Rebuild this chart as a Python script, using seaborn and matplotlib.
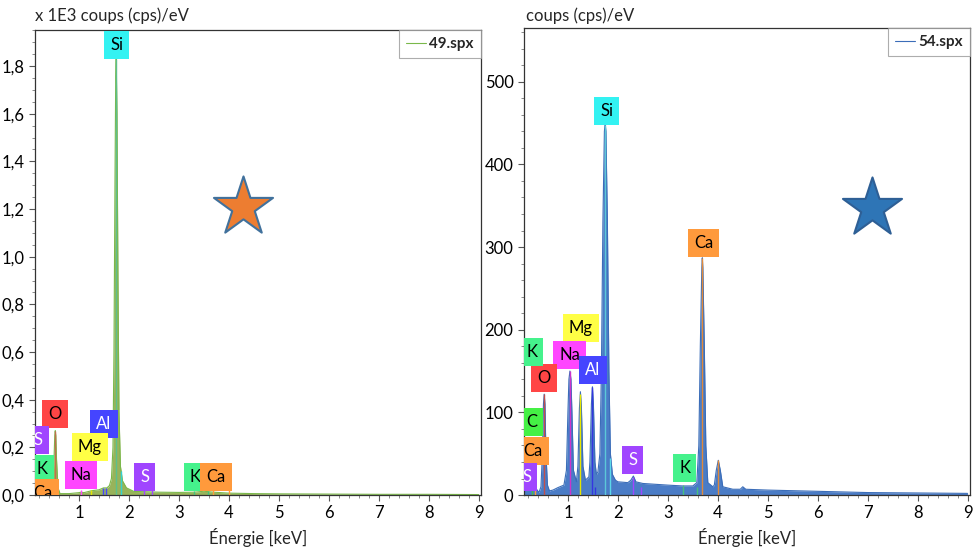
import matplotlib
matplotlib.use("Agg")
import matplotlib.pyplot as plt
from matplotlib.ticker import MultipleLocator
import seaborn as sns
import pandas as pd

sns.set_style("ticks")
plt.rcParams['font.family'] = ['Lato', 'DejaVu Sans']

# spectrum 49.spx (x 1E3 cps/eV)
e_49 = [0.12, 0.2, 0.28, 0.36, 0.43, 0.47, 0.5, 0.515, 0.525, 0.535, 0.55, 0.58, 0.62, 0.8, 1.0, 1.04,
        1.1, 1.25, 1.4, 1.49, 1.56, 1.61, 1.65, 1.68, 1.70, 1.72, 1.735, 1.745, 1.76, 1.78, 1.80,
        1.83, 1.87, 1.95, 2.1, 2.31, 2.6, 3.0, 3.31, 3.5, 3.69, 4.0, 4.5, 5.0, 6.0, 7.0, 8.0, 9.0]
c_49 = [0.03, 0.04, 0.05, 0.02, 0.008, 0.03, 0.15, 0.25, 0.27, 0.25, 0.15, 0.03, 0.006, 0.006, 0.01, 0.012,
        0.01, 0.018, 0.022, 0.03, 0.03, 0.04, 0.07, 0.2, 0.6, 1.3, 1.75, 1.83, 1.6, 0.9, 0.35,
        0.12, 0.06, 0.03, 0.015, 0.014, 0.012, 0.011, 0.012, 0.016, 0.012, 0.008, 0.006, 0.005, 0.004, 0.003, 0.003, 0.002]

# spectrum 54.spx (cps/eV)
e_54 = [0.12, 0.2, 0.26, 0.28, 0.31, 0.36, 0.42, 0.46, 0.49, 0.51, 0.525, 0.54, 0.56, 0.59, 0.63, 0.7,
        0.8, 0.92, 0.97, 1.0, 1.02, 1.04, 1.06, 1.08, 1.11, 1.17, 1.2, 1.23, 1.25, 1.27, 1.3, 1.35,
        1.42, 1.44, 1.47, 1.49, 1.51, 1.54, 1.57, 1.60, 1.64, 1.67, 1.70, 1.73, 1.745, 1.76, 1.79,
        1.82, 1.85, 1.89, 1.95, 2.0, 2.2, 2.26, 2.31, 2.36, 2.5, 3.0, 3.3, 3.5, 3.58, 3.62, 3.65,
        3.68, 3.69, 3.70, 3.73, 3.76, 3.80, 3.9, 3.93, 3.97, 4.01, 4.05, 4.10, 4.3, 4.45, 4.5,
        4.56, 5.0, 6.0, 7.0, 8.0, 9.0]
c_54 = [30, 25, 28, 30, 22, 8, 3, 10, 50, 110, 122, 110, 50, 12, 5, 6,
        9, 12, 30, 100, 140, 150, 140, 100, 30, 16, 35, 105, 125, 105, 35, 18,
        22, 40, 110, 131, 110, 40, 25, 28, 50, 150, 330, 440, 450, 440, 330,
        150, 50, 25, 18, 16, 15, 18, 23, 16, 14, 12, 11, 11, 15, 60, 180,
        275, 287, 275, 180, 60, 15, 10, 12, 30, 42, 30, 10, 7, 7, 10,
        7, 6, 4.5, 3, 2.5, 2]

# element labels
lab_49 = ['Si', 'O', 'Al', 'Mg', 'Na', 'S', 'K', 'Ca', 'S', 'K', 'Ca']
lab_49_x = [1.76, 0.52, 1.50, 1.22, 1.04, 0.18, 0.26, 0.28, 2.32, 3.33, 3.74]
lab_49_y = [1.89, 0.34, 0.30, 0.20, 0.085, 0.23, 0.11, 0.01, 0.075, 0.075, 0.075]
lab_54 = ['Si', 'Ca', 'Mg', 'Na', 'Al', 'O', 'K', 'C', 'Ca', 'S', 'S', 'K']
lab_54_x = [1.78, 3.72, 1.26, 1.04, 1.50, 0.52, 0.28, 0.28, 0.30, 0.18, 2.30, 3.34]
lab_54_y = [464, 305, 202, 170, 151, 141, 173, 88, 53, 22, 42, 33]

box_col = {'Si': '#33f2f2', 'O': '#ff4545', 'Al': '#4545ff', 'Mg': '#ffff45', 'Na': '#ff45ff',
           'S': '#a045ff', 'K': '#45f28c', 'Ca': '#ff9a3c', 'C': '#45f045'}
txt_col = {'Al': 'white', 'S': 'white'}

# element marker lines (energy, height, colour)
ln_49_e = [0.525, 1.04, 1.25, 1.49, 1.55, 1.74, 1.84, 2.31, 2.46, 3.31, 3.59, 3.69, 4.01]
ln_49_h = [0.27, 0.02, 0.02, 0.03, 0.03, 1.83, 0.1, 0.02, 0.02, 0.015, 0.015, 0.02, 0.03]
ln_49_c = ['#c0704d', '#ff45ff', '#e6e600', '#4545ff', '#4545ff', '#5cc08c', '#33d2d2',
           '#a045ff', '#a045ff', '#45c27c', '#45c27c', '#ff9a3c', '#ff9a3c']
ln_54_e = [0.28, 0.34, 0.525, 1.04, 1.25, 1.49, 1.55, 1.74, 1.84, 2.31, 2.46, 3.31, 3.59, 3.69, 4.01]
ln_54_h = [20, 12, 122, 150, 122, 131, 10, 448, 45, 22, 10, 12, 10, 287, 42]
ln_54_c = ['#45c045', '#ff9a3c', '#c0504d', '#cc33cc', '#e6e600', '#3535e0', '#3535e0', '#5bc8d8',
           '#5bd8e8', '#a045ff', '#a045ff', '#45c27c', '#45c27c', '#e08a3c', '#e08a3c']

yt_49 = [0.0, 0.2, 0.4, 0.6, 0.8, 1.0, 1.2, 1.4, 1.6, 1.8]
yt_49_lab = ['0,0', '0,2', '0,4', '0,6', '0,8', '1,0', '1,2', '1,4', '1,6', '1,8']
yt_54 = [0, 100, 200, 300, 400, 500]
xt = [1, 2, 3, 4, 5, 6, 7, 8, 9]

fig = plt.figure(figsize=(9.73, 5.6), dpi=100)
ax1 = fig.add_axes([0.036, 0.116, 0.458, 0.830])
ax2 = fig.add_axes([0.5385, 0.116, 0.458, 0.834])


def draw_panel(ax, e, c, fill, line, name, labs, lx, ly, le, lh, lc, ylim, star, star_pos):
    df = pd.DataFrame({'E': e, 'cps': c})
    ax.fill_between(df['E'], 0, df['cps'], color=fill, lw=0, zorder=1)
    sns.lineplot(data=df, x='E', y='cps', ax=ax, color=line, lw=0.8, label=name, zorder=2)
    ax.vlines(le, 0, lh, colors=lc, lw=1.0, zorder=3)
    for s, x, y in zip(labs, lx, ly):
        ax.text(x, y, s, ha='center', va='center', fontsize=12, color=txt_col.get(s, 'black'),
                bbox=dict(boxstyle='square,pad=0.36', fc=box_col[s], ec='none'), zorder=4, clip_on=True)
    ax.scatter([star_pos[0]], [star_pos[1]], marker='*', s=2000, c=star[0], edgecolors=star[1],
               linewidths=1.5, zorder=5)
    ax.set_xlim(0.12, 9.04)
    ax.set_ylim(*ylim)
    ax.set_xticks(xt)
    ax.set_xticklabels([str(v) for v in xt])
    ax.xaxis.set_minor_locator(MultipleLocator(0.2))
    ax.tick_params(axis='both', which='major', labelsize=12, length=4, width=0.8, colors='#555555',
                   labelcolor='black')
    ax.tick_params(axis='both', which='minor', length=2.5, width=0.6, colors='#777777')
    ax.set_xlabel('Énergie [keV]', fontsize=12, labelpad=5)
    ax.set_ylabel('')
    for sp in ax.spines.values():
        sp.set_visible(True)
        sp.set_linewidth(0.9)
        sp.set_color('#333333')
    leg = ax.legend(loc='upper right', fontsize=11, handlelength=1.3, handletextpad=0.2,
                    borderpad=0.45, frameon=True, fancybox=False, borderaxespad=0)
    leg.get_frame().set_edgecolor('#999999')
    leg.get_frame().set_linewidth(0.8)
    for t in leg.get_texts():
        t.set_fontweight('bold')


draw_panel(ax1, e_49, c_49, '#98b35a', '#7ab84a', '49.spx', lab_49, lab_49_x, lab_49_y,
           ln_49_e, ln_49_h, ln_49_c, (0, 1.95), ('#ed7d31', '#41719c'), (4.28, 1.21))
ax1.set_yticks(yt_49)
ax1.set_yticklabels(yt_49_lab)
ax1.yaxis.set_minor_locator(MultipleLocator(0.05))

draw_panel(ax2, e_54, c_54, '#4a7cc6', '#3b6db8', '54.spx', lab_54, lab_54_x, lab_54_y,
           ln_54_e, ln_54_h, ln_54_c, (0, 565), ('#2e75b6', '#2e5f95'), (7.08, 347))
ax2.set_yticks(yt_54)
ax2.set_yticklabels([str(v) for v in yt_54])
ax2.yaxis.set_minor_locator(MultipleLocator(20))

fig.text(0.036, 0.972, 'x 1E3 coups (cps)/eV', fontsize=12, va='center', ha='left')
fig.text(0.541, 0.972, 'coups (cps)/eV', fontsize=12, va='center', ha='left')

fig.savefig('out.png', dpi=100)
